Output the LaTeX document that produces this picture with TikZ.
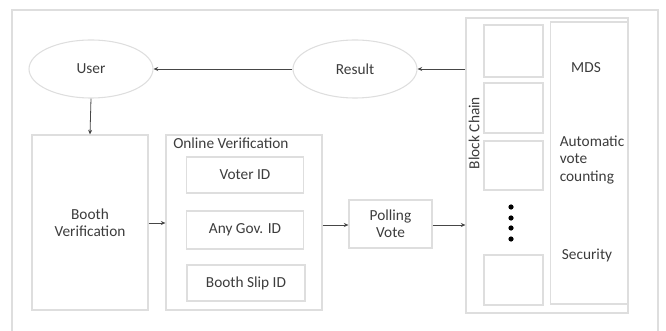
\documentclass[tikz,border=0pt]{standalone}
\usepackage{fontspec}
\setmainfont{Carlito}
\usetikzlibrary{shapes.geometric,arrows.meta}
\definecolor{edge}{RGB}{222,222,222}
\definecolor{ink}{RGB}{60,60,60}
\definecolor{wire}{RGB}{70,70,70}

\begin{document}
\begin{tikzpicture}[x=0.75pt,y=0.75pt,yscale=-1,xscale=1,
  font=\fontsize{11.5}{13}\selectfont, text=ink,
  box/.style={draw=edge, line width=0.8pt, inner sep=0pt, align=center},
  oval/.style={draw=edge, line width=0.8pt, ellipse, minimum width=124*0.75pt, minimum height=58*0.75pt},
  wire/.style={draw=wire, line width=0.6pt, -{Stealth[length=3.5pt,width=3pt]}}]
\useasboundingbox (0,0) rectangle (666,331);

%Frame
\draw [edge, line width=0.8pt] (12,335) -- (12,10) -- (658,10) -- (658,335) ;

%Ellipses
\node [oval] (user) at (91,69) {User};
\node [oval] (result) at (355,69) {Result};

%Booth verification
\node [box, minimum width=116*0.75pt, minimum height=175*0.75pt] (booth) at (90,222.5) {Booth\\Verification};

%Online verification
\node [box, minimum width=156*0.75pt, minimum height=175*0.75pt] (online) at (244,222.5) {};
\node [anchor=north west, inner sep=0.75pt] (onlinelbl) at (172,137) {Online Verification};
\node [box, minimum width=117*0.75pt, minimum height=36*0.75pt] (voter) at (245,175) {Voter ID};
\node [box, minimum width=117*0.75pt, minimum height=38*0.75pt] (gov) at (245,230) {Any Gov. ID};
\node [box, minimum width=118*0.75pt, minimum height=36*0.75pt] (slip) at (246,283) {Booth Slip ID};

%Polling vote
\node [box, minimum width=83*0.75pt, minimum height=48*0.75pt] (poll) at (390.5,224) {Polling\\Vote};

%Block chain
\node [box, minimum width=162*0.75pt, minimum height=295*0.75pt] (chain) at (547,165.5) {};
\node [rotate=90, inner sep=0.75pt] (chainlbl) at (474,133) {Block Chain};
\node [box, minimum width=77*0.75pt, minimum height=282*0.75pt] (feat) at (589,163) {};
\node [box, minimum width=59*0.75pt, minimum height=52*0.75pt] (blkA) at (513.5,51) {};
\node [box, minimum width=59*0.75pt, minimum height=50*0.75pt] (blkB) at (513.5,108) {};
\node [box, minimum width=59*0.75pt, minimum height=49*0.75pt] (blkC) at (513.5,165.5) {};
\node [box, minimum width=59*0.75pt, minimum height=50*0.75pt] (blkD) at (513.5,280) {};
\foreach \y in {207,218,228,239}
  \fill [black] (511,\y) circle [radius=2.6];
\node (mds) at (586,68) {MDS};
\node [align=left] (count) at (592,160) {Automatic\\vote\\counting};
\node (secure) at (587,255) {Security};

%Connectors
\draw [wire] (chain.west |- result.east) -- (result.east);
\draw [wire] (result.west) -- (user.east);
\draw [wire] (user.south) -- (booth.north);
\draw [wire] (booth.east |- 0,223) -- (online.west |- 0,223);
\draw [wire] (online.east |- 0,225) -- (poll.west |- 0,225);
\draw [wire] (poll.east |- 0,225) -- (chain.west |- 0,225);

\end{tikzpicture}
\end{document}
